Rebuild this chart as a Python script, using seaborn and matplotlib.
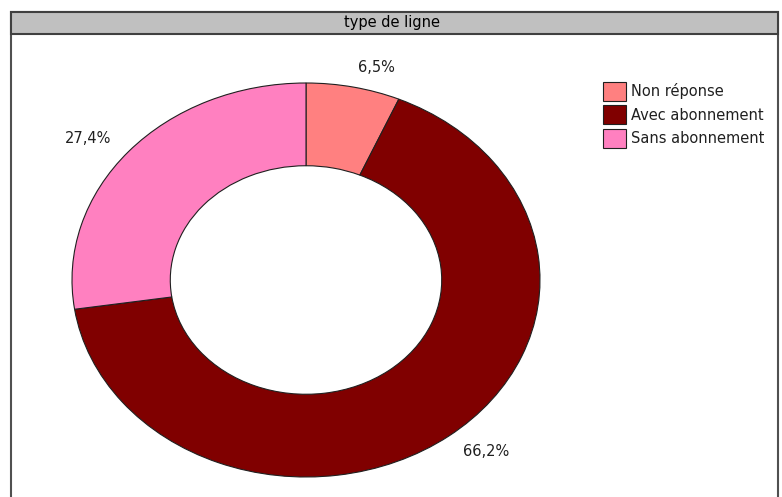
import matplotlib
matplotlib.use("Agg")
import matplotlib.pyplot as plt
import seaborn as sns
from matplotlib.patches import Rectangle

categories = ["Non réponse", "Avec abonnement", "Sans abonnement"]
values = [6.5, 66.2, 27.4]
pct_labels = ["6,5%", "66,2%", "27,4%"]
colors = ["#FF8080", "#800000", "#FF80C0"]
title = "type de ligne"

sns.set_theme(style="white")
plt.rcParams['font.family'] = ['DejaVu Sans']

W, H = 782, 497
fig = plt.figure(figsize=(W / 100, H / 100), dpi=100)
fig.patch.set_facecolor("white")

def fx(x):
    return x / W

def fy(y):
    return 1 - y / H

FS = 10.5

# outer frame
fig.add_artist(Rectangle((fx(10.5), -0.05), fx(778) - fx(10.5), fy(12) + 0.05,
                         transform=fig.transFigure, facecolor="white",
                         edgecolor="#505050", linewidth=1.5, zorder=0))
# title bar
fig.add_artist(Rectangle((fx(10.5), fy(34)), fx(778) - fx(10.5), fy(12) - fy(34),
                         transform=fig.transFigure, facecolor="#C0C0C0",
                         edgecolor="#404040", linewidth=1.5, zorder=1))
fig.text(fx(392), fy(23), title, ha="center", va="center", fontsize=FS, color="black")

ax = fig.add_axes([fx(72), fy(477), fx(540) - fx(72), fy(83) - fy(477)])
wedges, texts = ax.pie(values, colors=colors, startangle=90, counterclock=False,
                       labels=pct_labels, labeldistance=1.1,
                       textprops=dict(fontsize=FS, color="#202020"),
                       wedgeprops=dict(width=0.42, edgecolor="#202020", linewidth=0.8))
ax.set_aspect("auto")
ax.set_xlim(-1, 1)
ax.set_ylim(-1, 1)
ax.axis("off")

fig.legend(wedges, categories, loc="upper left", bbox_to_anchor=(fx(603), fy(82)),
           frameon=False, fontsize=FS, handlelength=1.6, handleheight=1.6,
           handletextpad=0.35, labelspacing=0.32, borderpad=0, borderaxespad=0,
           labelcolor="#202020")

fig.savefig("out.png", dpi=100)
